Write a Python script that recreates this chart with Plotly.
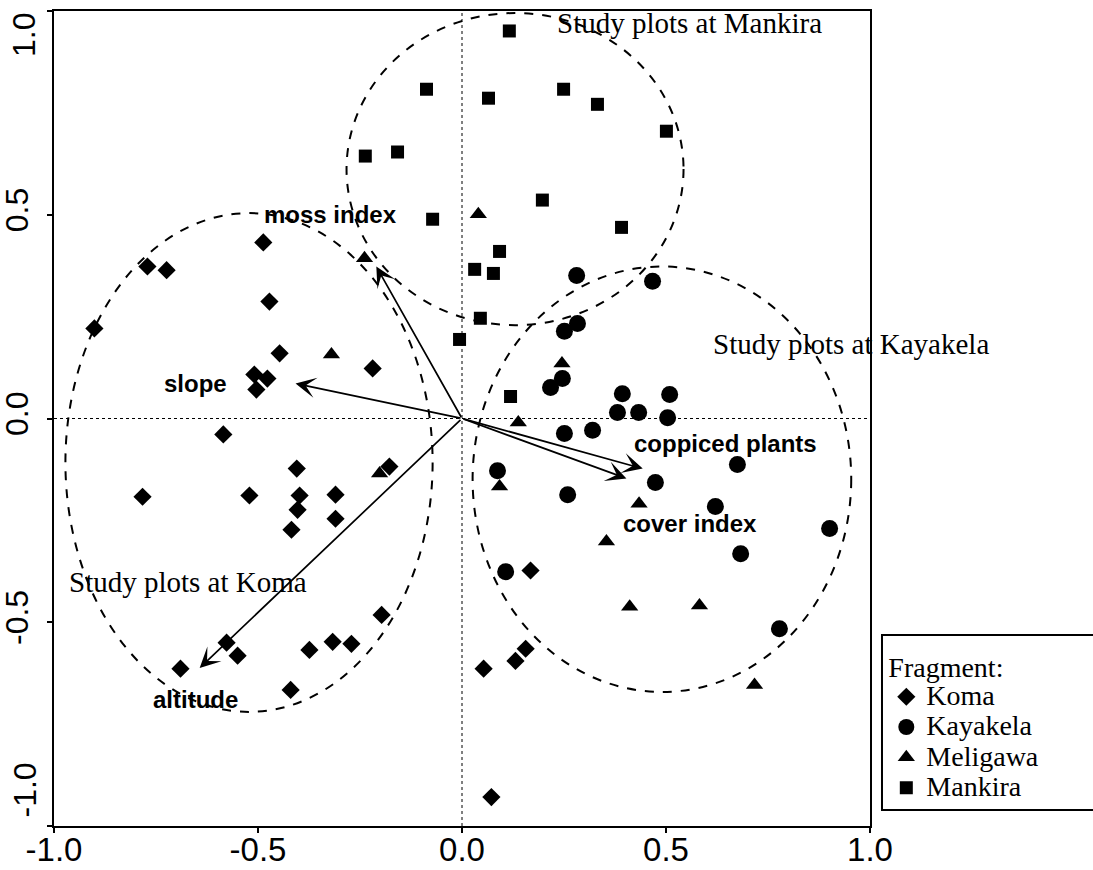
import plotly.graph_objects as go

# ---------------- data ----------------
koma_x = [-0.901, -0.771, -0.724, -0.487, -0.472, -0.447, -0.509, -0.477, -0.504, -0.219,
          -0.585, -0.783, -0.521, -0.405, -0.398, -0.403, -0.418, -0.310, -0.310, -0.178,
          -0.197, -0.577, -0.550, -0.690, -0.374, -0.317, -0.271, -0.420, 0.053, 0.131,
          0.156, 0.168, 0.072]
koma_y = [0.221, 0.373, 0.364, 0.432, 0.287, 0.160, 0.108, 0.098, 0.071, 0.123,
          -0.039, -0.192, -0.189, -0.123, -0.189, -0.224, -0.273, -0.187, -0.246, -0.118,
          -0.482, -0.550, -0.582, -0.614, -0.568, -0.548, -0.553, -0.666, -0.614, -0.595,
          -0.565, -0.373, -0.929]

kayakela_x = [0.467, 0.281, 0.251, 0.283, 0.246, 0.217, 0.393, 0.509, 0.381, 0.433,
              0.504, 0.320, 0.251, 0.087, 0.675, 0.474, 0.259, 0.621, 0.901, 0.683,
              0.107, 0.778]
kayakela_y = [0.337, 0.351, 0.214, 0.233, 0.098, 0.076, 0.061, 0.059, 0.015, 0.015,
              0.002, -0.029, -0.037, -0.128, -0.113, -0.157, -0.187, -0.216, -0.270, -0.332,
              -0.376, -0.516]

meligawa_x = [0.040, -0.239, -0.320, -0.202, 0.092, 0.245, 0.138, 0.434, 0.354, 0.411,
              0.582, 0.717]
meligawa_y = [0.501, 0.393, 0.157, -0.135, -0.167, 0.135, -0.010, -0.209, -0.302, -0.462,
              -0.459, -0.654]

mankira_x = [0.116, -0.087, 0.065, 0.249, 0.332, 0.501, -0.237, -0.158, -0.072, 0.197,
             0.391, 0.092, 0.031, 0.077, 0.045, -0.006, 0.119]
mankira_y = [0.951, 0.808, 0.786, 0.808, 0.771, 0.705, 0.644, 0.654, 0.489, 0.536,
             0.469, 0.410, 0.366, 0.356, 0.246, 0.194, 0.054]

vec_names = ["moss index", "slope", "coppiced plants", "cover index", "altitude"]
vec_x = [-0.210, -0.408, 0.443, 0.403, -0.643]
vec_y = [0.373, 0.086, -0.123, -0.147, -0.612]
vec_label_x = [-0.322, -0.653, 0.646, 0.560, -0.653]
vec_label_y = [0.501, 0.086, -0.061, -0.258, -0.690]

ell_names = ["Study plots at Mankira", "Study plots at Kayakela", "Study plots at Koma"]
ell_cx = [0.130, 0.490, -0.522]
ell_cy = [0.612, -0.149, -0.108]
ell_rx = [0.413, 0.464, 0.450]
ell_ry = [0.383, 0.522, 0.612]
ell_label_x = [0.227, 0.611, -0.969]
ell_label_y = [0.970, 0.184, -0.400]

tick_vals = [-1.0, -0.5, 0.0, 0.5, 1.0]
tick_text = ["-1.0", "-0.5", "0.0", "0.5", "1.0"]

# ---------------- figure ----------------
SANS = "Liberation Sans, Arial, sans-serif"
SERIF = "Liberation Serif, Times New Roman, serif"

fig = go.Figure()

series = [
    ("Koma", koma_x, koma_y, "diamond", 14),
    ("Kayakela", kayakela_x, kayakela_y, "circle", 17),
    ("Meligawa", meligawa_x, meligawa_y, "triangle-up", 15),
    ("Mankira", mankira_x, mankira_y, "square", 13),
]
for name, xs, ys, sym, sz in series:
    fig.add_trace(go.Scatter(
        x=xs, y=ys, mode="markers",
        name='<span style="font-size:28px">' + name + "</span>",
        marker=dict(symbol=sym, size=sz, color="black", line=dict(width=0)),
    ))

shapes = []
shapes.append(dict(type="line", xref="x", yref="y", x0=-1, x1=1, y0=0, y1=0,
                   line=dict(color="black", width=1, dash="dot"), layer="below"))
shapes.append(dict(type="line", xref="x", yref="y", x0=0, x1=0, y0=-1, y1=1,
                   line=dict(color="black", width=1, dash="dot"), layer="below"))
for cx, cy, rx, ry in zip(ell_cx, ell_cy, ell_rx, ell_ry):
    shapes.append(dict(type="circle", xref="x", yref="y",
                       x0=cx - rx, x1=cx + rx, y0=cy - ry, y1=cy + ry,
                       line=dict(color="black", width=2, dash="dash")))
shapes.append(dict(type="rect", xref="paper", yref="paper",
                   x0=1.0147, x1=1.4, y0=0.0196, y1=0.2344,
                   line=dict(color="black", width=2), fillcolor="rgba(0,0,0,0)"))

annotations = []
for nm, vx, vy, lx, ly in zip(vec_names, vec_x, vec_y, vec_label_x, vec_label_y):
    annotations.append(dict(x=vx, y=vy, ax=0, ay=0, xref="x", yref="y",
                            axref="x", ayref="y", text="", showarrow=True,
                            arrowhead=3, arrowsize=2.0, arrowwidth=1.7,
                            arrowcolor="black"))
    annotations.append(dict(x=lx, y=ly, xref="x", yref="y", text="<b>" + nm + "</b>",
                            showarrow=False, font=dict(family=SANS, size=24, color="black"),
                            xanchor="center", yanchor="middle"))
for nm, lx, ly in zip(ell_names, ell_label_x, ell_label_y):
    annotations.append(dict(x=lx, y=ly, xref="x", yref="y", text=nm, showarrow=False,
                            font=dict(family=SERIF, size=29, color="black"),
                            xanchor="left", yanchor="middle"))

YFONT = dict(family=SANS, size=32, color="black")
annotations.append(dict(x=0, y=tick_vals[-1], xref="paper", yref="y", text=tick_text[-1],
                        textangle=-90, showarrow=False, xanchor="right", yanchor="top",
                        xshift=-10, font=YFONT))
annotations.append(dict(x=0, y=tick_vals[0], xref="paper", yref="y", text=tick_text[0],
                        textangle=-90, showarrow=False, xanchor="right", yanchor="bottom",
                        xshift=-10, yshift=6, font=YFONT))

axis_common = dict(
    range=[-1, 1], tickmode="array", tickvals=tick_vals,
    showline=True, linecolor="black", linewidth=2, mirror=True,
    ticks="outside", ticklen=5, tickwidth=1.5, tickcolor="black",
    showgrid=False, zeroline=False, automargin=False,
)

y_ticktext = [""] + tick_text[1:-1] + [""]

fig.update_layout(
    width=1093, height=870,
    margin=dict(l=54, r=223, t=11, b=44, autoexpand=False),
    paper_bgcolor="white", plot_bgcolor="white",
    xaxis=dict(**axis_common, ticktext=tick_text, ticklabelstandoff=-12,
               tickfont=dict(family=SANS, size=33, color="black")),
    yaxis=dict(**axis_common, ticktext=y_ticktext, tickangle=-90, ticklabelstandoff=6,
               tickfont=YFONT),
    shapes=shapes,
    annotations=annotations,
    showlegend=True,
    legend=dict(
        title=dict(text="Fragment:", font=dict(family=SERIF, size=28, color="black")),
        font=dict(family=SERIF, size=21, color="black"),
        x=1.02, y=0.228, xanchor="left", yanchor="top",
        bgcolor="rgba(0,0,0,0)", borderwidth=0,
        tracegroupgap=0, itemsizing="trace",
    ),
)

fig.write_html("out.html")
